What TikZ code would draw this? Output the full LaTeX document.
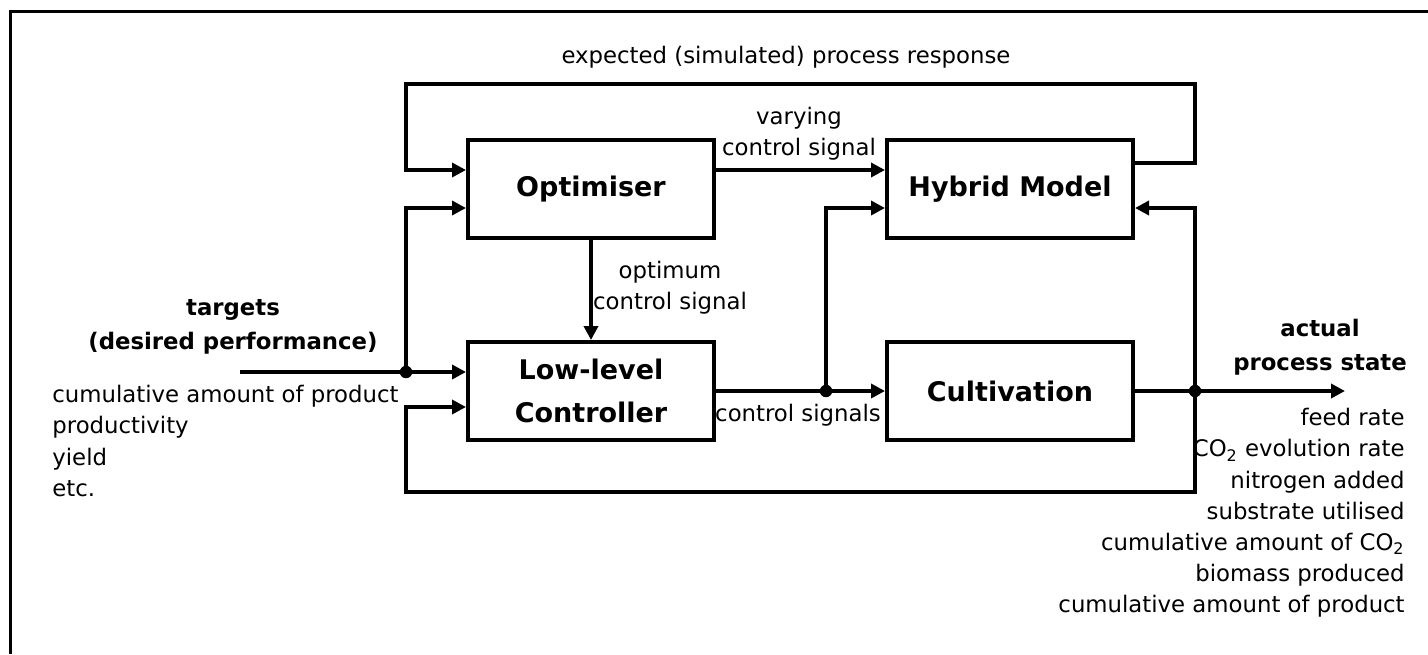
\documentclass[tikz,border=0pt]{standalone}
\usepackage{fontspec}
\setmainfont{DejaVu Sans}
\usetikzlibrary{arrows.meta, calc}
\tikzset{
    % process blocks
    block/.style={draw, line width=2pt, minimum width=123pt, minimum height=49pt,
        align=center, font=\fontsize{13.5}{21.5}\selectfont\bfseries},
    % plain text labels
    lbl/.style={inner sep=0pt, font=\fontsize{11.4}{15.6}\selectfont},
    % bold captions
    caption/.style={lbl, align=center, font=\fontsize{11.4}{17}\selectfont\bfseries},
    % signal line with arrow
    sig/.style={line width=2pt, -{Triangle[length=7pt, width=7pt]}},
    % plain wire
    wire/.style={line width=2pt}
}
\begin{document}
\begin{tikzpicture}[x=0.5pt, y=-0.5pt]
    \useasboundingbox (0,0) rectangle (1428,654);
    \draw[line width=1.5pt] (10,654) |- (1428,11);

    \node[block] (opt)  at (591,189) {Optimiser};
    \node[block] (llc)  at (591,391) {Low-level\\Controller};
    \node[block] (hyb)  at (1010,189) {Hybrid Model};
    \node[block] (cult) at (1010,391) {Cultivation};

    % branch points and corners
    \coordinate (jT) at (406,372);
    \coordinate (jC) at (826,391);
    \coordinate (jA) at (1195,391);
    \coordinate (tgt) at (240,372);
    \coordinate (out) at (1345,391);
    \coordinate (topL) at (406,84);
    \coordinate (topR) at (1195,84);
    \coordinate (botL) at (406,492);
    \coordinate (botR) at (1195,492);
    \foreach \j in {jT, jC, jA} {
        \node (dot-\j) at (\j)[circle, fill, inner sep=2.2pt]{};
    }

    \begin{scope}
        \draw[wire] (tgt) -- (jT);
        \draw[sig] (jT) -- (jT -| llc.west);
        \draw[sig] (jT) |- ([yshift=-9.5pt]opt.west);
        \draw[sig] ([yshift=13pt]hyb.east) -| (topR) -- (topL) |- ([yshift=9.5pt]opt.west);
        \draw[sig] ([yshift=9.5pt]opt.east) -- ([yshift=9.5pt]hyb.west);
        \draw[sig] (opt.south) -- (llc.north);
        \draw[wire] (llc.east) -- (jC);
        \draw[sig] (jC) -- (cult.west);
        \draw[sig] (jC) |- ([yshift=-9.5pt]hyb.west);
        \draw[wire] (cult.east) -- (jA);
        \draw[sig] (jA) -- (out);
        \draw[sig] (jA) |- ([yshift=-9.5pt]hyb.east);
        \draw[sig] (jA) -- (botR) -- (botL) |- ([yshift=-8pt]llc.west);
    \end{scope}

    \node[lbl] (resp) at (786,57) {expected (simulated) process response};
    \node[lbl, align=center] (vary) at (799,134) {varying\\control signal};
    \node[lbl, align=center] (optsig) at (670,288) {optimum\\control signal};
    \node[lbl] (csig) at (798,415) {control signals};
    \node[caption] (tgtcap) at (233,327) {targets\\(desired performance)};
    \node[lbl, align=left, anchor=west] (tgtlist) at (52,441)
        {cumulative amount of product\\productivity\\yield\\etc.};
    \node[caption] (actcap) at (1320,347) {actual\\process state};
    \node[lbl, align=right, anchor=east] (actlist) at (1405,513)
        {feed rate\\CO\textsubscript{2} evolution rate\\nitrogen added\\substrate utilised\\
         cumulative amount of CO\textsubscript{2}\\biomass produced\\cumulative amount of product};
\end{tikzpicture}
\end{document}
